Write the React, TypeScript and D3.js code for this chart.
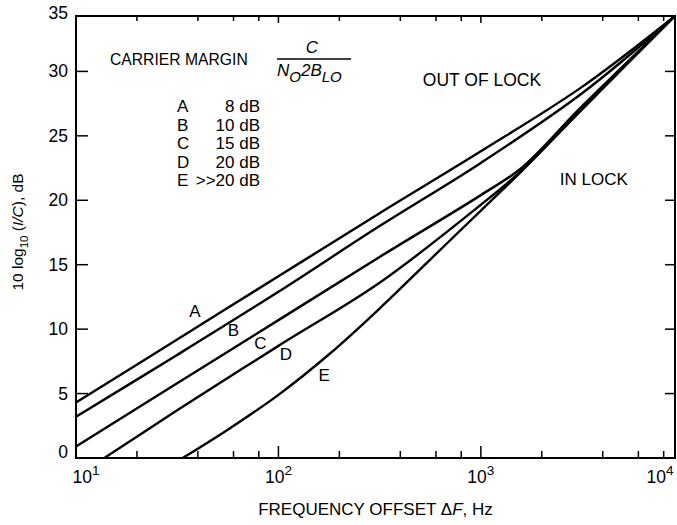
import React, { useEffect, useRef } from 'react';
import * as d3 from 'd3';

// [frequency offset Hz, 10 log10(I/C) dB]
const curveA = [[10, 4.3], [31.6, 9.2], [100, 14.1], [316, 19.0], [1000, 23.8], [3162, 28.8], [9100, 34.3]];
const curveB = [[10, 3.2], [31.6, 8.0], [100, 12.9], [316, 18.0], [1000, 22.9], [3162, 28.3], [9100, 34.3]];
const curveC = [[10, 0.9], [31.6, 5.8], [100, 10.7], [316, 15.6], [1000, 20.4], [1600, 22.55], [3162, 27.3], [9100, 34.3]];
const curveD = [[13.8, 0], [31.6, 3.7], [100, 8.7], [316, 13.6], [1000, 19.65], [1600, 22.35], [3162, 27.1], [9100, 34.3]];
const curveE = [[33.6, 0], [56.2, 2.2], [100, 4.9], [178, 8.05], [316, 11.6], [562, 15.4], [1000, 19.2], [1600, 22.3], [3162, 27.05], [9100, 34.3]];

const curveNames = ['A', 'B', 'C', 'D', 'E'];
const curves = [curveA, curveB, curveC, curveD, curveE];
const curveLabelAt = [[38.7, 11.4], [59.9, 9.9], [81.5, 8.9], [108.8, 8.0], [168.4, 6.4]];
const legendValues = ['8 dB', '10 dB', '15 dB', '20 dB', '>>20 dB'];

const yTicks = [0, 5, 10, 15, 20, 25, 30, 35];
const decades = [10, 100, 1000, 10000];
const decadeExp = ['1', '2', '3', '4'];
const minorSteps = [2, 4, 6, 8];

const FONT = '"Liberation Sans", Arial, sans-serif';

const App = () => {
    const svgRef = useRef(null);

    useEffect(() => {
        const W = 677, H = 525;
        const margin = { top: 16, right: 2, bottom: 67, left: 76 };
        const x0 = margin.left, x1 = W - margin.right;
        const y0 = H - margin.bottom, y1 = margin.top;

        const svg = d3.select(svgRef.current)
            .attr('width', W)
            .attr('height', H)
            .style('font-family', FONT);
        svg.selectAll('*').remove();

        const x = d3.scaleLog().domain([10, 9100]).range([x0, x1]);
        const y = d3.scaleLinear().domain([0, 34.3]).range([y0, y1]);

        // frame
        svg.append('rect')
            .attr('x', x0).attr('y', y1)
            .attr('width', x1 - x0).attr('height', y0 - y1)
            .attr('fill', 'none').attr('stroke', '#000').attr('stroke-width', 2);

        // x ticks (inward, top and bottom)
        const xt = [];
        decades.forEach(d => {
            if (d > 10 && d < 9100) xt.push({ v: d, major: true });
            minorSteps.forEach(m => {
                const v = d * m;
                if (v < 9100) xt.push({ v, major: false });
            });
        });
        const tg = svg.append('g').attr('stroke', '#000').attr('stroke-width', 1.5);
        xt.forEach(t => {
            tg.append('line').attr('x1', x(t.v)).attr('x2', x(t.v))
                .attr('y1', y0).attr('y2', y0 - (t.major ? 12 : 7));
            tg.append('line').attr('x1', x(t.v)).attr('x2', x(t.v))
                .attr('y1', y1).attr('y2', y1 + (t.major ? 7 : 5));
        });
        yTicks.filter(v => v > 0 && v < 34.3).forEach(v => {
            tg.append('line').attr('x1', x0).attr('x2', x0 + 12).attr('y1', y(v)).attr('y2', y(v));
            tg.append('line').attr('x1', x1).attr('x2', x1 - 10).attr('y1', y(v)).attr('y2', y(v));
        });

        // y tick labels (kept inside the frame's height)
        svg.append('g').selectAll('text').data(yTicks).join('text')
            .attr('x', x0 - 8)
            .attr('y', d => Math.max(13, Math.min(452, y(d))))
            .attr('text-anchor', 'end')
            .attr('dominant-baseline', 'central')
            .attr('font-size', 17.5)
            .text(d => d);

        // x tick labels 10^n
        decades.forEach((d, i) => {
            const cx = Math.max(x0 + 10, Math.min(x1 - 15, x(d)));
            const t = svg.append('text')
                .attr('x', cx).attr('y', y0 + 25)
                .attr('text-anchor', 'middle')
                .attr('font-size', 17.5);
            t.append('tspan').text('10');
            t.append('tspan').attr('dy', -8).attr('font-size', 13.5).text(decadeExp[i]);
        });

        // axis titles
        const xt2 = svg.append('text')
            .attr('x', (x0 + x1) / 2).attr('y', y0 + 57)
            .attr('text-anchor', 'middle')
            .attr('font-size', 17);
        xt2.append('tspan').text('FREQUENCY OFFSET \u0394');
        xt2.append('tspan').attr('font-style', 'italic').text('F');
        xt2.append('tspan').text(', Hz');

        const yt = svg.append('text')
            .attr('transform', `translate(23,232) rotate(-90)`)
            .attr('text-anchor', 'middle')
            .attr('font-size', 15.5);
        yt.append('tspan').text('10 log');
        yt.append('tspan').attr('dy', 5).attr('font-size', 11.5).text('10');
        yt.append('tspan').attr('dy', -5).text(' (');
        yt.append('tspan').attr('font-style', 'italic').text('I/C');
        yt.append('tspan').text('), dB');

        // curves
        const line = d3.line()
            .x(d => x(d[0]))
            .y(d => y(d[1]))
            .curve(d3.curveCatmullRom.alpha(0.5));
        svg.append('g').selectAll('path').data(curves).join('path')
            .attr('d', line)
            .attr('fill', 'none')
            .attr('stroke', '#000')
            .attr('stroke-width', 2.4);

        // curve letters
        svg.append('g').selectAll('text').data(curveLabelAt).join('text')
            .attr('x', d => x(d[0]))
            .attr('y', d => y(d[1]))
            .attr('text-anchor', 'middle')
            .attr('dominant-baseline', 'central')
            .attr('font-size', 17)
            .text((d, i) => curveNames[i]);

        // carrier margin heading with fraction
        svg.append('text').attr('x', 110).attr('y', 65).attr('font-size', 15.7).text('CARRIER MARGIN');
        svg.append('text').attr('x', 312).attr('y', 53).attr('text-anchor', 'middle')
            .attr('font-size', 17).attr('font-style', 'italic').text('C');
        svg.append('line').attr('x1', 277).attr('x2', 351).attr('y1', 59).attr('y2', 59)
            .attr('stroke', '#000').attr('stroke-width', 1.5);
        const den = svg.append('text').attr('x', 277).attr('y', 76)
            .attr('font-size', 17).attr('font-style', 'italic');
        den.append('tspan').text('N');
        den.append('tspan').attr('dy', 6).attr('font-size', 15).text('O');
        den.append('tspan').attr('dy', -6).text('2B');
        den.append('tspan').attr('dy', 6).attr('font-size', 15).text('LO');

        // legend table
        const lg = svg.append('g').attr('font-size', 17);
        curveNames.forEach((n, i) => {
            const by = 112 + i * 18.5;
            lg.append('text').attr('x', 177).attr('y', by).text(n);
            lg.append('text').attr('x', 260).attr('y', by).attr('text-anchor', 'end').text(legendValues[i]);
        });

        // region labels
        svg.append('text').attr('x', x(1013)).attr('y', y(28.9))
            .attr('text-anchor', 'middle').attr('font-size', 17.5).text('OUT OF LOCK');
        svg.append('text').attr('x', x(3614)).attr('y', y(21.2))
            .attr('text-anchor', 'middle').attr('font-size', 17).text('IN LOCK');
    }, []);

    return (
        <div style={{ position: 'fixed', left: 0, top: 0, background: '#fff' }}>
            <svg ref={svgRef} style={{ display: 'block' }} />
        </div>
    );
};

export default App;
